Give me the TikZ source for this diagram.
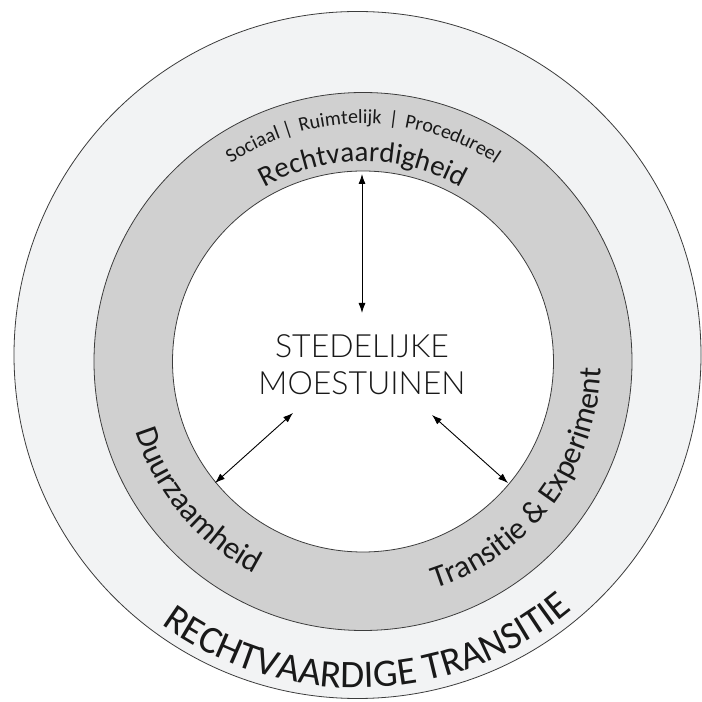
\documentclass[tikz,border=0pt]{standalone}
\usepackage{fontspec}
\setmainfont{Carlito}
\newfontfamily\lightfont{Lato Light}
\usetikzlibrary{decorations.text,arrows.meta}
\definecolor{outerfill}{RGB}{242,243,244}
\definecolor{ringfill}{RGB}{208,208,208}
\definecolor{edgecol}{RGB}{60,60,60}
\definecolor{txt}{RGB}{25,25,25}
\tikzset{
  ringline/.style={draw=edgecol, line width=0.8pt},
  dblarrow/.style={{Latex[length=10pt,width=7pt]}-{Latex[length=10pt,width=7pt]}, line width=0.9pt, draw=black},
  curvetext/.style={decorate, decoration={text along path, text align=center, text format delimiters={[}{]}, text={#1}}}
}
\begin{document}
\begin{tikzpicture}[x=1pt,y=1pt]
\useasboundingbox (0,0) rectangle (702,702);
\fill[white] (0,0) rectangle (702,702);
% circles
\draw[ringline, fill=outerfill] (357.5,347) circle[radius=343.5];
\draw[ringline, fill=ringfill] (363,340.5) circle[radius=269];
\draw[ringline, fill=white] (363,340.5) circle[radius=190.5];
% curved texts on ring
\begin{scope}[shift={(363,340.5)}]
  \path[curvetext={[\fontsize{29}{29}\selectfont\color{txt}]Rechtvaardigheid}] (160:200) arc[start angle=160, end angle=20, radius=200];
  \path[curvetext={[\fontsize{20}{20}\selectfont\color{txt}]Sociaal{\kern4pt}|{\kern7pt}Ruimtelijk{\kern7pt}|{\kern7pt}Procedureel}] (160:238) arc[start angle=160, end angle=20, radius=238];
  \path[curvetext={[\fontsize{32}{32}\selectfont\color{txt}]Duurzaamheid}] (175:238) arc[start angle=175, end angle=265, radius=238];
  \path[curvetext={[\fontsize{31.5}{31.5}\selectfont\color{txt}]Transitie {\&} Experiment}] (273:238) arc[start angle=273, end angle=373, radius=238];
\end{scope}
\begin{scope}[shift={(357.5,347)}]
  \path[curvetext={[\fontsize{39}{39}\selectfont\color{txt}]RECHTVAARDIGE TRANSITIE}] (214:333) arc[start angle=214, end angle=330, radius=333];
\end{scope}
% centre
\node[font=\lightfont\fontsize{32}{37}\selectfont, text=txt, align=center] (mid) at (362,337.5) {STEDELIJKE\\MOESTUINEN};
% arrows
\coordinate (topA) at (362,528);
\coordinate (topB) at (362,389);
\coordinate (leftA) at (215,219);
\coordinate (leftB) at (293,289);
\coordinate (rightA) at (432,287);
\coordinate (rightB) at (508,219);
\draw[dblarrow] (topA) -- (topB);
\draw[dblarrow] (leftA) -- (leftB);
\draw[dblarrow] (rightA) -- (rightB);
\end{tikzpicture}
\end{document}
